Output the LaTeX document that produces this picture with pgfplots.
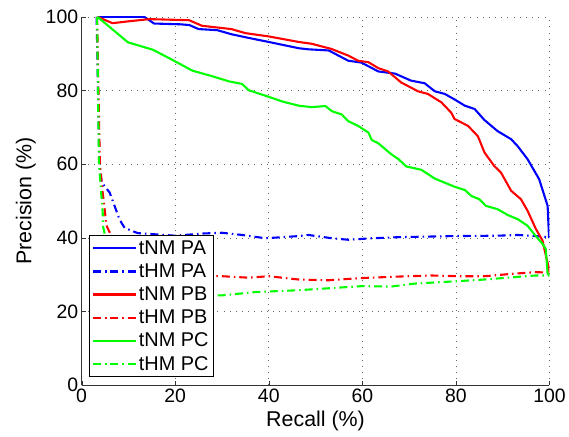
\documentclass[border=0pt]{standalone}
\usepackage{fontspec}
\setmainfont{Liberation Sans}
\usepackage{pgfplots}
\pgfplotsset{compat=1.18}
\definecolor{mblue}{RGB}{0,0,255}
\definecolor{mred}{RGB}{255,0,0}
\definecolor{mgreen}{RGB}{0,255,0}
\tikzset{
  nm/.style={line width=2.1pt},
  hm/.style={line width=2.1pt,dash pattern=on 8pt off 4pt on 1.5pt off 4pt},
}
\begin{document}
\begin{tikzpicture}
\begin{axis}[
  scale only axis, width=470pt, height=370pt,
  at={(0,0)}, anchor=south west,
  xmin=0, xmax=100, ymin=0, ymax=100,
  xtick={0,20,...,100}, ytick={0,20,...,100},
  axis x line*=bottom, axis y line*=left,
  tick align=inside, major tick length=4pt,
  grid=major, major grid style={black!60,line width=0.8pt,dash pattern=on 0.8pt off 5.4pt},
  axis line style={black!80,line width=0.7pt},
  tick style={black!80},
  tick label style={font=\fontsize{19.5}{22}\selectfont},
  label style={font=\fontsize{21.5}{24}\selectfont},
  /pgf/number format/assume math mode=true,
  xlabel={Recall (\%)}, ylabel={Precision (\%)},
  xlabel style={yshift=-2pt}, ylabel style={yshift=3pt},
  legend cell align=left,
  legend style={at={(rel axis cs:0.0149,0.022)},anchor=south west,
    font=\fontsize{20}{22}\selectfont, draw=black, line width=0.9pt,
    fill=white, inner xsep=3pt, inner ysep=3pt, row sep=3.9pt},
  legend image code/.code={\draw[#1] (0pt,0pt) -- (43pt,0pt);},
]
\addplot[mblue,nm] coordinates {(3.4,100)(13.4,100)(15.5,98.2)(21,98)(23,97.8)(25,96.7)(29,96.4)(32,95.3)(35.7,94.3)(40,93.2)(46.4,91.5)(48.5,91.2)(52.8,90.9)(57,88.1)(59.8,87.6)(63.4,85.2)(67,84.6)(70.4,82.7)(73.3,82)(75.5,79.8)(77.6,79.1)(79.7,77.6)(81.9,75.9)(84,75)(86.1,72)(88.9,69)(91.8,66.8)(93.2,64.9)(95.3,61.4)(97.4,56.8)(97.8,55.9)(99.6,48.7)(99.9,40.2)(100,40)};
\addlegendentry{tNM PA}
\addplot[mblue,hm] coordinates {(3.2,100)(3.5,80)(3.8,60)(4.3,55)(6,52.3)(8.1,45)(9.2,42.7)(12,41.3)(20,40.6)(26,41.2)(30,41.4)(34.3,40.8)(39.3,39.9)(46.4,40.5)(48.5,40.8)(53.5,39.9)(57,39.5)(62,39.9)(67.7,40.2)(79.7,40.5)(88.9,40.6)(93.2,40.8)(97,40.5)(100,40.2)};
\addlegendentry{tHM PA}
\addplot[mred,nm] coordinates {(3.4,100)(6.6,98.3)(10,98.8)(14.5,99.4)(23,99.1)(25.7,97.6)(32,96.7)(35,95.6)(40,94.7)(46.4,93.2)(49.2,92.7)(53.4,91.3)(57,89.5)(59.1,88.1)(61.3,87.7)(63.4,86.1)(65.5,85.2)(68.3,82.2)(71.9,79.8)(74,79.1)(76.9,76.8)(79,74)(79.7,72.3)(82.6,70.4)(84.7,67.6)(86.1,63.2)(88.2,59.5)(89.6,57.8)(91.8,52.8)(93.9,50.5)(95.3,47.4)(97.1,42.4)(98.5,39.3)(99.9,31.5)(100,30.6)};
\addlegendentry{tNM PB}
\addplot[mred,hm] coordinates {(3.3,100)(3.6,80)(3.9,60)(4.5,52.3)(5,46.9)(5.3,43.4)(8,36)(12,31.5)(20,30)(30,29.6)(35.7,29.2)(40,29.6)(46.4,28.7)(52.8,28.5)(59.8,29.1)(67.7,29.5)(74.7,29.8)(80.4,29.6)(86.1,29.6)(92.5,30.3)(97,30.7)(100,30.6)};
\addlegendentry{tHM PB}
\addplot[mgreen,nm] coordinates {(3.4,100)(9.9,93.1)(15.2,91.1)(18.7,88.8)(23.7,85.4)(27.9,83.9)(31.5,82.5)(34.3,81.8)(35.7,80.1)(40,78.3)(43,77)(46.4,75.9)(49.2,75.5)(52.1,75.8)(53.5,74.4)(55.6,73.5)(57,71.7)(59.1,70.4)(61.3,68.6)(62,66.6)(63.4,65.7)(66.2,62.7)(67.7,61.4)(69.4,59.4)(72.6,58.5)(75.5,56.1)(79.7,53.9)(81.9,53)(83.3,51.4)(85,50.5)(86.4,48.7)(88.9,47.8)(91.1,46.2)(93.2,45.1)(95.3,43.3)(97,40.6)(98.5,38.4)(99.2,37)(99.6,30.3)(100,29.8)};
\addlegendentry{tNM PC}
\addplot[mgreen,hm] coordinates {(3.3,100)(3.5,80)(3.7,60)(4.5,47)(4.6,43)(6,35)(9,28)(15,25)(22,24.3)(30,24.4)(37.2,25.3)(46.4,25.8)(59.8,26.9)(66.2,26.8)(71.2,27.6)(79.7,28.2)(86.1,28.7)(97,29.8)(100,29.8)};
\addlegendentry{tHM PC}
\end{axis}
\path[use as bounding box] (-82pt,-51pt) rectangle (487pt,387pt);
\end{tikzpicture}
\end{document}
